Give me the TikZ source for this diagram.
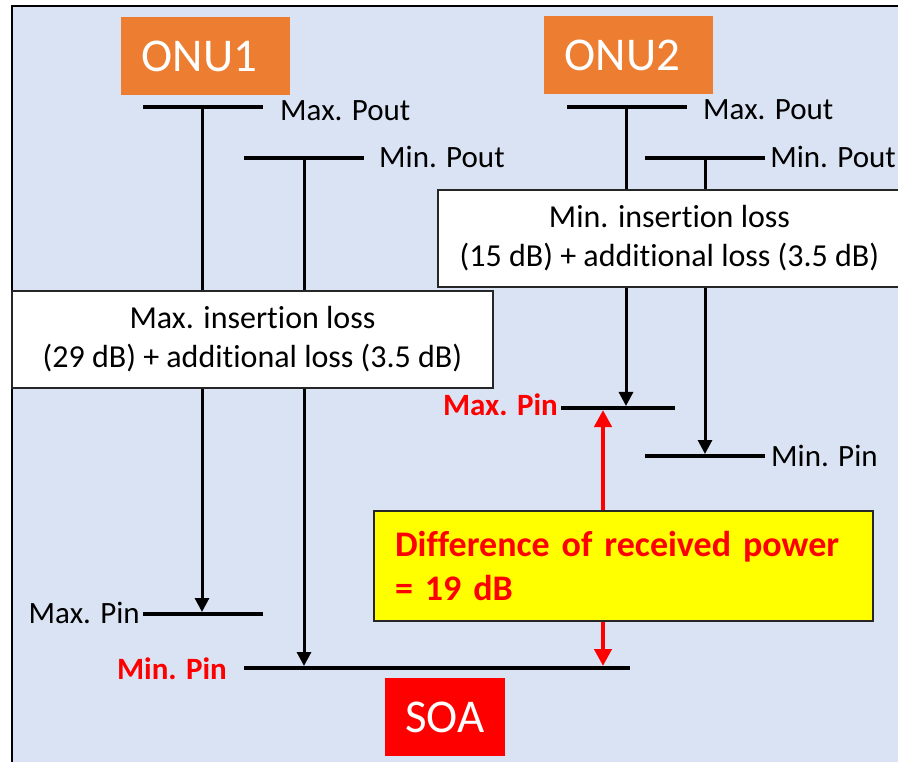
\documentclass[tikz,border=0pt]{standalone}
\usepackage{fontspec}
\setmainfont{Carlito}[Ligatures={NoCommon}]
\usetikzlibrary{arrows.meta}
\definecolor{bgblue}{HTML}{DAE3F3}
\definecolor{onuorange}{HTML}{ED7D31}
\definecolor{soared}{HTML}{FF0000}
\definecolor{boxline}{HTML}{262626}
\definecolor{diffyellow}{HTML}{FFFF00}
\begin{document}
\begin{tikzpicture}[x=1pt,y=-1pt,
  level/.style={line width=4pt},
  feedarrow/.style={line width=3pt,-{Triangle[width=14pt,length=14pt]}},
  diffarrow/.style={line width=4.5pt,draw=soared,{Triangle[width=17pt,length=17pt]}-{Triangle[width=17pt,length=17pt]}},
  lbl/.style={font=\fontsize{31}{37}\selectfont, inner sep=0pt},
  redlbl/.style={font=\fontsize{31}{37}\selectfont\bfseries, text=soared, inner sep=0pt},
  unitbox/.style={font=\fontsize{47}{56}\selectfont, text=white, inner sep=0pt},
  lossbox/.style={draw=boxline, line width=1.5pt, fill=white, align=center, font=\fontsize{32}{39}\selectfont, inner sep=0pt},
  diffbox/.style={draw=boxline, line width=1.5pt, fill=diffyellow, align=left, font=\fontsize{36}{44}\selectfont\bfseries, text=soared, inner xsep=21pt, inner ysep=0pt}
]
\useasboundingbox (0,0) rectangle (898,762);
\clip (0,0) rectangle (898,762);
% frame
\draw[fill=bgblue, line width=2pt] (12,6) rectangle (930,790);

% unit boxes
\node[unitbox, fill=onuorange, minimum width=169pt, minimum height=78pt] (onu1) at (205.5,56) {ONU1\kern12pt};
\node[unitbox, fill=onuorange, minimum width=169pt, minimum height=78pt] (onu2) at (628.5,55) {ONU2\kern12pt};
\node[unitbox, fill=soared, minimum width=120pt, minimum height=78pt] (soa) at (445,717) {SOA};

% level coordinates
\coordinate (a1L) at (143,107); \coordinate (a1R) at (263,107);
\coordinate (b1L) at (244,158); \coordinate (b1R) at (364,158);
\coordinate (a2L) at (567,107); \coordinate (a2R) at (687,107);
\coordinate (b2L) at (645,158); \coordinate (b2R) at (765,158);
\coordinate (c2L) at (561,408); \coordinate (c2R) at (675,408);
\coordinate (d2L) at (645,456); \coordinate (d2R) at (765,456);
\coordinate (c1L) at (143,614); \coordinate (c1R) at (263,614);
\coordinate (d1L) at (244,668); \coordinate (d1R) at (630,668);

% feed coordinates
\coordinate (a1s) at (202,107); \coordinate (c1e) at (202,612);
\coordinate (b1s) at (304,158); \coordinate (d1e) at (304,666);
\coordinate (a2s) at (626,107); \coordinate (c2e) at (626,406);
\coordinate (b2s) at (705,158); \coordinate (d2e) at (705,454);
\coordinate (rtop) at (603,410); \coordinate (rbot) at (603,666);

% levels
\draw[level] (a1L) -- (a1R);
\draw[level] (b1L) -- (b1R);
\draw[level] (a2L) -- (a2R);
\draw[level] (b2L) -- (b2R);
\draw[level] (c2L) -- (c2R);
\draw[level] (d2L) -- (d2R);
\draw[level] (c1L) -- (c1R);
\draw[level] (d1L) -- (d1R);

% feeds
\draw[feedarrow] (a1s) -- (c1e);
\draw[feedarrow] (b1s) -- (d1e);
\draw[feedarrow] (a2s) -- (c2e);
\draw[feedarrow] (b2s) -- (d2e);
\draw[diffarrow] (rtop) -- (rbot);

% loss boxes
\node[lossbox, minimum width=481pt, minimum height=97pt] (maxloss) at (252.5,339.5) {Max. insertion loss\\(29 dB) + additional loss (3.5 dB)};
\node[lossbox, minimum width=463pt, minimum height=97pt] (minloss) at (669.5,238.5) {Min. insertion loss\\(15 dB) + additional loss (3.5 dB)};
\node[diffbox, text width=457pt, minimum height=110pt] (diff) at (623.5,566) {\mbox{Difference of received power}\\= 19 dB};

% labels
\node[lbl, anchor=base west] (l1) at (280,121) {Max. Pout};
\node[lbl, anchor=base west] (l2) at (379,168) {Min. Pout};
\node[lbl, anchor=base west] (l3) at (703,120) {Max. Pout};
\node[lbl, anchor=base east] (l4) at (896,168) {Min. Pout};
\node[redlbl, anchor=base east] (l5) at (558,415) {Max. Pin};
\node[lbl, anchor=base west] (l6) at (771,466) {Min. Pin};
\node[lbl, anchor=base east] (l7) at (140,623) {Max. Pin};
\node[redlbl, anchor=base east] (l8) at (227,679) {Min. Pin};
\end{tikzpicture}
\end{document}
